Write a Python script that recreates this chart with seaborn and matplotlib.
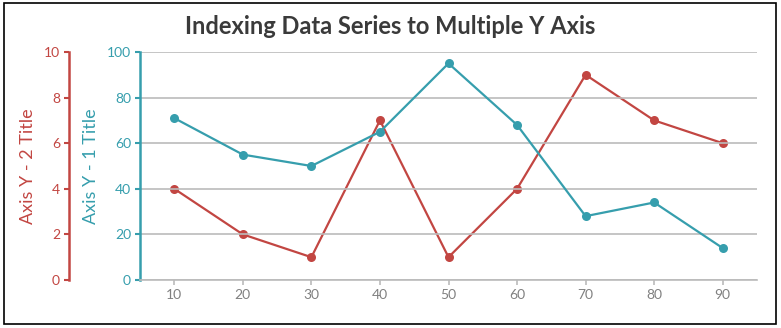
import matplotlib
matplotlib.use("Agg")
import matplotlib.pyplot as plt
import seaborn as sns
import pandas as pd
from matplotlib.patches import Rectangle

x_values = [10, 20, 30, 40, 50, 60, 70, 80, 90]
axis_y1_series = [71, 55, 50, 65, 95, 68, 28, 34, 14]
axis_y2_series = [4, 2, 1, 7, 1, 4, 9, 7, 6]
y1_ticks = [0, 20, 40, 60, 80, 100]
y2_ticks = [0, 2, 4, 6, 8, 10]
title_text = "Indexing Data Series to Multiple Y Axis"
y1_title = "Axis Y - 1 Title"
y2_title = "Axis Y - 2 Title"

TEAL = "#369EAD"
RED = "#C24642"
GRID = "#BBBBBB"
LABEL_GRAY = "#808080"

sns.set_theme(style="white")
plt.rcParams["font.family"] = ["Lato", "DejaVu Sans"]

W, H = 781, 328
fig = plt.figure(figsize=(W / 100, H / 100), dpi=100)

left, right, top, bottom = 140, 757, 52, 280
pos = [left / W, (H - bottom) / H, (right - left) / W, (bottom - top) / H]

ax = fig.add_axes(pos)
df1 = pd.DataFrame({"x": x_values, "y": axis_y1_series})
sns.lineplot(data=df1, x="x", y="y", ax=ax, color=TEAL, marker="o",
             markersize=6.5, markeredgewidth=0, linewidth=1.6)
ax.set_xlim(5, 95)
ax.set_ylim(0, 100)
ax.set_xticks(x_values)
ax.set_yticks(y1_ticks)
ax.grid(axis="y", color=GRID, linewidth=1.2)
ax.set_axisbelow(True)
for s in ["top", "right"]:
    ax.spines[s].set_visible(False)
ax.spines["left"].set_color(TEAL)
ax.spines["left"].set_linewidth(1.8)
ax.spines["bottom"].set_color(GRID)
ax.spines["bottom"].set_linewidth(1.2)
ax.tick_params(axis="y", colors=TEAL, labelcolor=TEAL, length=3.5, width=1.5,
               pad=3, labelsize=10, left=True)
ax.tick_params(axis="x", colors=GRID, labelcolor=LABEL_GRAY, length=3.5,
               width=1.2, pad=3, labelsize=10, bottom=True)
ax.set_xlabel("")
ax.set_ylabel(y1_title, color=TEAL, fontsize=13, labelpad=6)

ax2 = fig.add_axes(pos, sharex=ax)
ax2.patch.set_visible(False)
df2 = pd.DataFrame({"x": x_values, "y": axis_y2_series})
sns.lineplot(data=df2, x="x", y="y", ax=ax2, color=RED, marker="o",
             markersize=6.5, markeredgewidth=0, linewidth=1.6)
ax2.set_ylim(0, 10)
ax2.set_yticks(y2_ticks)
for s in ["top", "right", "bottom"]:
    ax2.spines[s].set_visible(False)
ax2.spines["left"].set_position(("outward", 71 * 0.72))
ax2.spines["left"].set_color(RED)
ax2.spines["left"].set_linewidth(1.8)
ax2.tick_params(axis="y", colors=RED, labelcolor=RED, length=3.5, width=1.5,
                pad=3, labelsize=10, left=True)
ax2.tick_params(axis="x", bottom=False, labelbottom=False)
ax2.set_xlabel("")
ax2.set_ylabel(y2_title, color=RED, fontsize=13, labelpad=6)
ax.set_zorder(ax2.get_zorder() + 1)
ax.patch.set_visible(False)

fig.text(390 / W, 1 - 27 / H, title_text, ha="center", va="center",
         fontsize=17, fontweight="bold", color="#3A3A3A")

fig.patches.append(Rectangle((4 / W, 4 / H), 772 / W, 321 / H,
                             transform=fig.transFigure, fill=False,
                             edgecolor="black", linewidth=1.2))

fig.savefig("out.png", dpi=100)
